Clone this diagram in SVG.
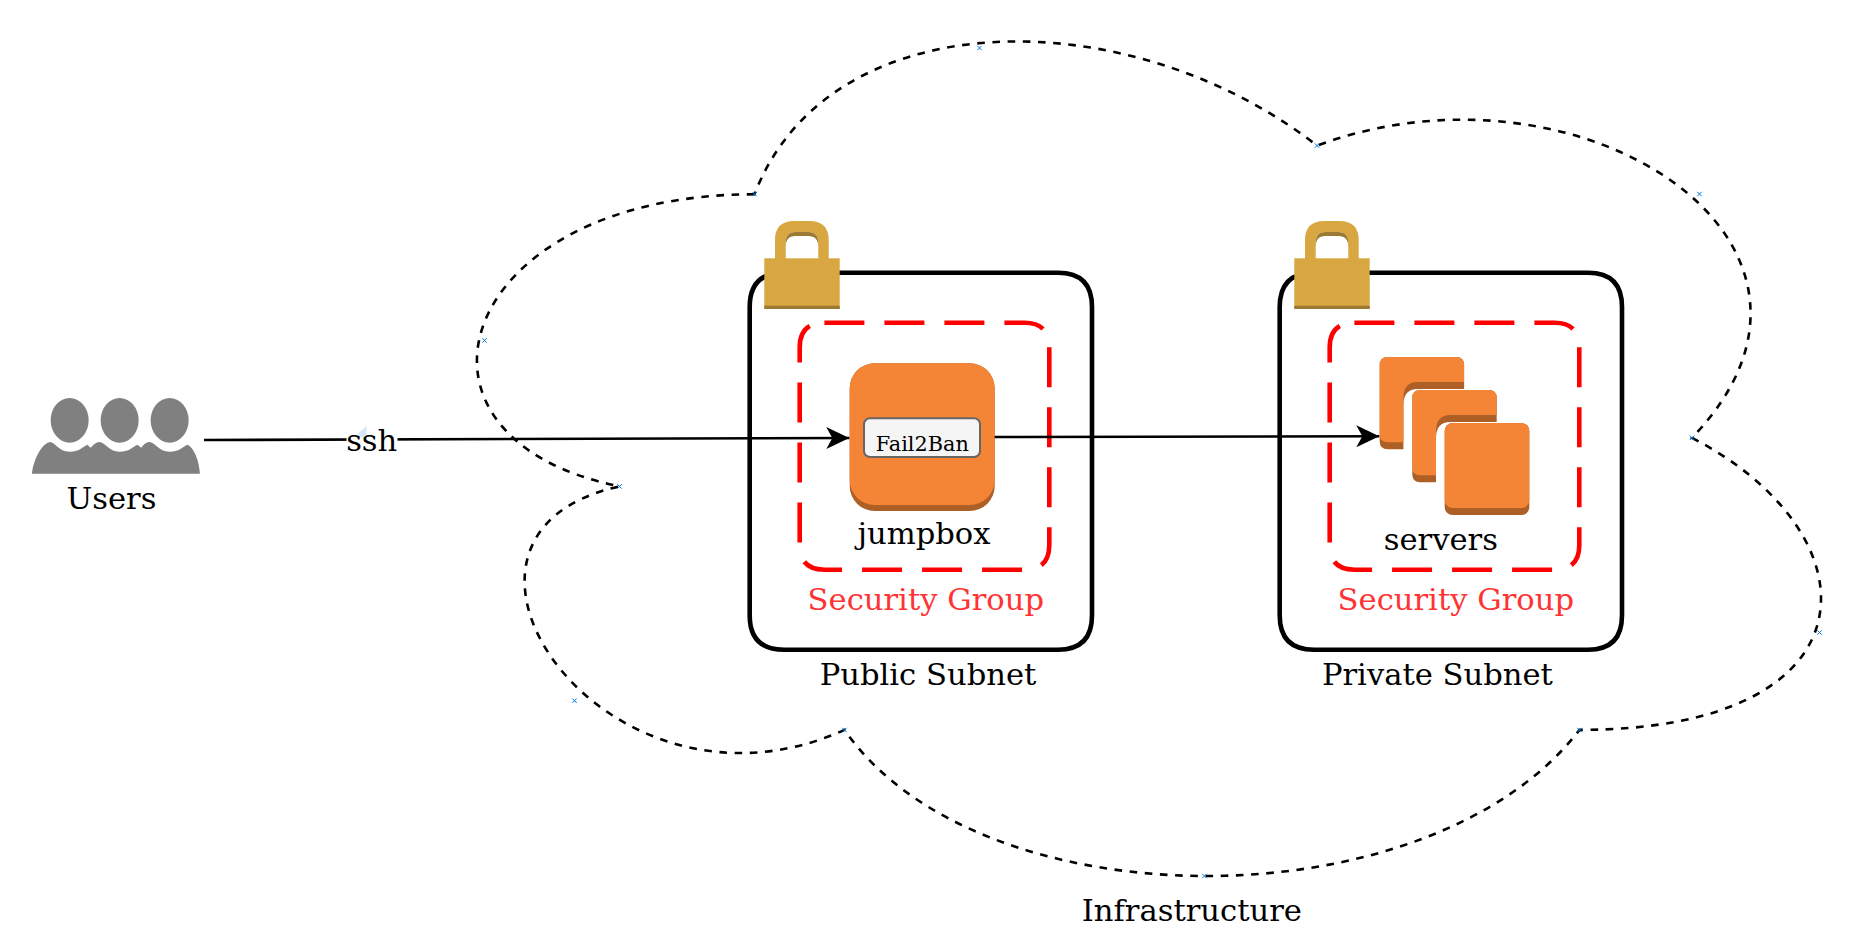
<svg xmlns="http://www.w3.org/2000/svg" width="1854" height="944" viewBox="0 0 1854 944">
<style>
text{font-family:"DejaVu Serif",serif;font-size:30.6px;fill:#000;text-anchor:middle}
.sg{fill:#ff3333}
.subnet{fill:none;stroke:#000;stroke-width:4.6}
.secgrp{fill:none;stroke:#f00;stroke-width:4.6;stroke-dasharray:40 20}
.edge{fill:none;stroke:#000;stroke-width:2.6;marker-end:url(#arrow)}
.lock{fill:#d9a741}.lockd{fill:#9c7a34}
.o{fill:#f58536}.d{fill:#ad5f26}
.cp{fill:none;stroke:#0078e0;stroke-width:1}
</style>
<defs>
<marker id="arrow" markerUnits="userSpaceOnUse" markerWidth="26" markerHeight="24" refX="23" refY="12" orient="auto"><path d="M0 1L23 12L0 23L6 12Z" fill="#000"/></marker>
<path id="x" d="M-2.2-2.2L2.2 2.2M-2.2 2.2L2.2-2.2"/>
<g id="lock">
<path class="lock" d="M10.700 38V19Q10.700 0 30 0H45Q64.400 0 64.400 19V38H54V22Q54 11 44 11H31Q21.400 11 21.400 22V38Z"/>
<path class="lockd" d="M21.400 22Q21.400 11 31 11H44Q54 11 54 22V26Q54 15 44 15H31Q21.400 15 21.400 26Z"/>
<rect class="lock" y="37.300" width="75.400" height="50.700"/>
<rect class="lockd" y="84.700" width="75.400" height="3.300"/>
</g>
<g id="inst">
<path class="d" d="M0 8Q0 0 8 0H76.400Q84.400 0 84.400 8V32H38Q23.700 32 23.700 48V92.300H8Q0 92.300 0 84.300Z"/>
<path class="o" d="M0 8Q0 0 8 0H76.400Q84.400 0 84.400 8V25H38Q23.700 25 23.700 41V85.300H8Q0 85.300 0 78Z"/>
</g>
</defs>
<rect width="1854" height="944" fill="#fff"/>
<g id="infrastructure">
<path d="M754.500 194.300C454.500 194.300 379.500 437.800 619.500 486.400C397 535.100 604.500 838 844.500 729.900C979.500 924.700 1429.500 924.700 1579.500 729.900C1879.500 729.900 1879.500 535.100 1692 437.800C1879.500 243 1579.500 48.200 1317 145.600C1129.500-.5 829.500-.5 754.500 194.300Z" fill="none" stroke="#000" stroke-width="2.600" stroke-dasharray="7.600 7.600"/>
<g class="cp">
<use href="#x" x="754.500" y="194"/><use href="#x" x="979.500" y="48"/><use href="#x" x="619.500" y="486.400"/><use href="#x" x="484.500" y="340.400"/><use href="#x" x="844.500" y="730"/><use href="#x" x="574.500" y="700.700"/><use href="#x" x="1579.500" y="730"/><use href="#x" x="1204.500" y="876"/><use href="#x" x="1692" y="437.800"/><use href="#x" x="1819.500" y="632.500"/><use href="#x" x="1317" y="145.600"/><use href="#x" x="1699.500" y="194"/>
</g>
<text x="1191.800" y="920.700">Infrastructure</text>
</g>
<g id="public-subnet">
<path class="subnet" d="M784 272.700H1058Q1092 272.700 1092 307V615.500Q1092 649.700 1058 649.700H784Q749.700 649.700 749.700 615.500V307Q749.700 272.700 784 272.700Z"/>
<use href="#lock" x="764.300" y="221"/>
<text x="928" y="685.300">Public Subnet</text>
</g>
<g id="public-sg">
<path class="secgrp" d="M824.400 322.700H1024.600Q1049.300 322.700 1049.300 347.400V545Q1049.300 569.700 1024.600 569.700H824.400Q799.700 569.700 799.700 545V347.400Q799.700 322.700 824.400 322.700Z"/>
<text class="sg" x="925.800" y="609.700">Security Group</text>
</g>
<g id="private-subnet">
<path class="subnet" d="M1314 272.700H1588Q1622 272.700 1622 307V615.500Q1622 649.700 1588 649.700H1314Q1279.700 649.700 1279.700 615.500V307Q1279.700 272.700 1314 272.700Z"/>
<use href="#lock" x="1294.300" y="221"/>
<text x="1437.400" y="685.300">Private Subnet</text>
</g>
<g id="private-sg">
<path class="secgrp" d="M1354.400 322.700H1554.600Q1579.300 322.700 1579.300 347.400V545Q1579.300 569.700 1554.600 569.700H1354.400Q1329.700 569.700 1329.700 545V347.400Q1329.700 322.700 1354.400 322.700Z"/>
<text class="sg" x="1455.800" y="609.700">Security Group</text>
</g>
<g id="users">
<g transform="translate(0 370) scale(.3333)" fill="#808080">
<ellipse cx="209" cy="151" rx="57" ry="67"/><ellipse cx="359" cy="151" rx="57" ry="67"/><ellipse cx="509" cy="151" rx="57" ry="67"/>
<path d="M96 311C100 270 125 220 150 216C165 216 175 245 209 245C240 245 250 228 262 224L272 233C280 225 285 218 298 216C315 216 325 245 359 245C390 245 400 228 412 224L424 233C430 225 435 218 448 216C465 216 475 245 509 245C540 245 550 228 562 224C580 230 598 270 600 311Z"/>
</g>
<text x="111.400" y="509">Users</text>
</g>
<g id="jumpbox">
<rect class="d" x="849.700" y="363.300" width="145" height="147.700" rx="25"/>
<rect class="o" x="849.700" y="363.300" width="145" height="141.700" rx="25"/>
<text x="924" y="544.300">jumpbox</text>
</g>
<g id="fail2ban">
<rect x="864" y="418.300" width="116" height="38.700" rx="6" fill="#f5f5f5" stroke="#666" stroke-width="2"/>
<text x="922.300" y="451.400" style="font-size:20.800px">Fail2Ban</text>
</g>
<g id="servers">
<use href="#inst" x="1379.700" y="357"/>
<use href="#inst" x="1412.300" y="390"/>
<rect class="d" x="1444.700" y="423" width="84.600" height="92" rx="8"/>
<rect class="o" x="1444.700" y="423" width="84.600" height="85" rx="8"/>
<text x="1440.800" y="550">servers</text>
</g>
<g id="connectors">
<path class="edge" d="M204 440L849.300 438"/>
<path class="edge" d="M994.700 437L1379.300 436.300"/>
<rect x="346.500" y="424" width="51" height="32" fill="#fff"/>
<polygon points="366.700,425.700 357.300,434.300 365,440 366.700,438" fill="#d8e8fb"/>
<text x="371.700" y="450.700">ssh</text>
</g>
</svg>
